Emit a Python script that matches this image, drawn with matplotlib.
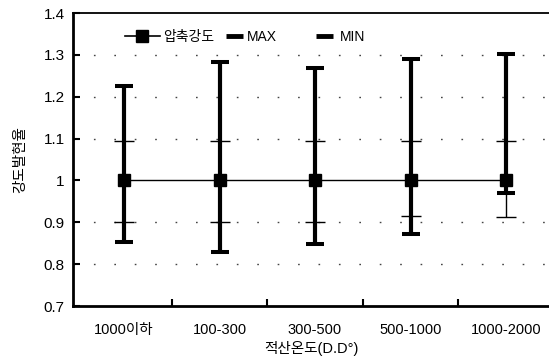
import numpy as np
import matplotlib
matplotlib.use('Agg')
import matplotlib.pyplot as plt
from matplotlib.lines import Line2D

plt.rcParams['font.family'] = ['Liberation Sans', 'Noto Sans CJK KR']

# data
categories = ['1000이하', '100-300', '300-500', '500-1000', '1000-2000']
mean_vals = [1.0, 1.0, 1.0, 1.0, 1.0]
max_vals = [1.225, 1.282, 1.268, 1.29, 1.303]
min_vals = [0.852, 0.828, 0.847, 0.871, 0.969]
thin_hi = [1.095, 1.095, 1.095, 1.095, 1.095]
thin_lo = [0.9, 0.9, 0.9, 0.915, 0.912]
yticks = [0.7, 0.8, 0.9, 1.0, 1.1, 1.2, 1.3, 1.4]
ytick_labels = ['0.7', '0.8', '0.9', '1', '1.1', '1.2', '1.3', '1.4']

x = np.arange(len(categories))
mean = np.array(mean_vals)

fig = plt.figure(figsize=(5.49, 3.61), dpi=100)
ax = fig.add_axes([73/549, 1 - 306/361, 1 - 73/549, (306 - 13)/361])

# sparse dotted grid
for g in [0.8, 0.9, 1.1, 1.2, 1.3]:
    ax.axhline(g, color='#444444', lw=1.0, ls=(0, (1.2, 13.5)), zorder=0)

# thin bars
ax.errorbar(x, mean, yerr=[mean - np.array(thin_lo), np.array(thin_hi) - mean],
            fmt='none', ecolor='black', elinewidth=1, capsize=7.5, capthick=1, zorder=2)
# thick MAX/MIN bars
ax.errorbar(x, mean, yerr=[mean - np.array(min_vals), np.array(max_vals) - mean],
            fmt='none', ecolor='black', elinewidth=3, capsize=6.5, capthick=2.9, zorder=3)
ax.plot(x, mean, color='black', lw=1, marker='s', ms=9, zorder=4)

ax.set_xlim(-0.534, 4.45)
ax.set_ylim(0.7, 1.4)
ax.set_yticks(yticks)
ax.set_yticklabels(ytick_labels, fontsize=11)
ax.set_xticks(x)
ax.set_xticklabels(categories, fontsize=10.5)
ax.set_xticks(x[:-1] + 0.5, minor=True)
ax.tick_params(axis='x', which='major', length=0, pad=12)
ax.tick_params(axis='x', which='minor', direction='in', length=5, width=1.5)
ax.tick_params(axis='y', direction='in', length=5, width=1.5, pad=6)

ax.spines['right'].set_visible(False)
ax.spines['left'].set_linewidth(2)
ax.spines['bottom'].set_linewidth(2)
ax.spines['top'].set_linewidth(1.3)

# legend: one entry per legend so the uneven gaps can be matched
leg_kw = dict(frameon=False, loc='center left', borderpad=0, borderaxespad=0, fontsize=10)
leg1 = ax.legend([Line2D([], [], color='black', lw=1.2, marker='s', ms=9)], ['압축강도'],
                 bbox_to_anchor=(0.109, 0.918), handlelength=2.5, handletextpad=0.25, **leg_kw)
ax.add_artist(leg1)
leg2 = ax.legend([Line2D([], [], color='black', lw=3.5, solid_capstyle='butt')], ['MAX'],
                 bbox_to_anchor=(0.321, 0.918), handlelength=1.22, handletextpad=0.3, **leg_kw)
ax.add_artist(leg2)
ax.legend([Line2D([], [], color='black', lw=3.5, solid_capstyle='butt')], ['MIN'],
          bbox_to_anchor=(0.511, 0.918), handlelength=1.22, handletextpad=0.5, **leg_kw)

ax.set_ylabel('강도발현율', fontsize=10.5, labelpad=12)
ax.set_xlabel('적산온도(D.D°)', fontsize=10.5, labelpad=3)

fig.savefig('out.png', dpi=100)
